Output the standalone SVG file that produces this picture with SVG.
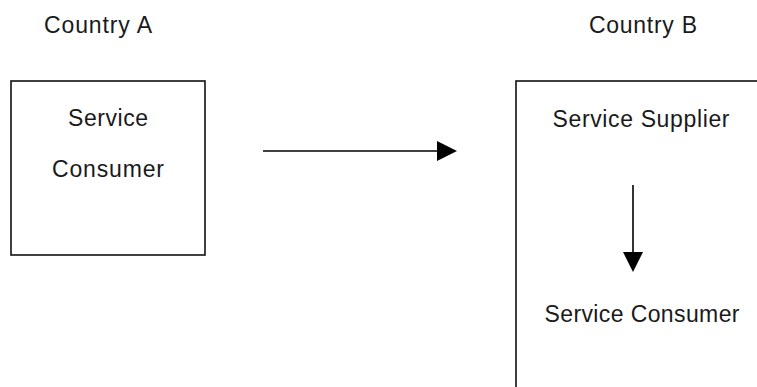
<svg xmlns="http://www.w3.org/2000/svg" width="757" height="387" viewBox="0 0 757 387">
  <style>
    .t { font-family: "Liberation Sans", Arial, sans-serif; font-size: 23px; fill: #1a1a1a; text-anchor: middle; }
    .box { fill: none; stroke: #111; stroke-width: 1.6; }
    .ln { stroke: #000; stroke-width: 1.6; fill: none; }
  </style>
  <defs>
    <marker id="ah" viewBox="0 0 20 20" refX="0" refY="10" markerWidth="20" markerHeight="20" markerUnits="userSpaceOnUse" orient="auto">
      <path d="M0,0 L20,10 L0,20 Z" fill="#000"/>
    </marker>
  </defs>
  <rect width="757" height="387" fill="#fff"/>
  <text class="t" x="98" y="33" textLength="108" lengthAdjust="spacing">Country A</text>
  <text class="t" x="643" y="33" textLength="108" lengthAdjust="spacing">Country B</text>
  <g id="countryA-consumer">
    <rect class="box" x="11" y="81" width="194" height="174"/>
    <text class="t" x="108" y="126" textLength="80" lengthAdjust="spacing">Service</text>
    <text class="t" x="108" y="177" textLength="112" lengthAdjust="spacing">Consumer</text>
  </g>
  <g id="countryB">
    <rect class="box" x="516" y="81" width="300" height="360"/>
  </g>
  <g id="supplier">
    <text class="t" x="641" y="127" textLength="177" lengthAdjust="spacing">Service Supplier</text>
  </g>
  <g id="countryB-consumer">
    <text class="t" x="642" y="322" textLength="195" lengthAdjust="spacing">Service Consumer</text>
  </g>
  <g id="connectors">
    <line class="ln" x1="263" y1="151" x2="437" y2="151" marker-end="url(#ah)"/>
    <line class="ln" x1="633" y1="185" x2="633" y2="252" marker-end="url(#ah)"/>
  </g>
</svg>
